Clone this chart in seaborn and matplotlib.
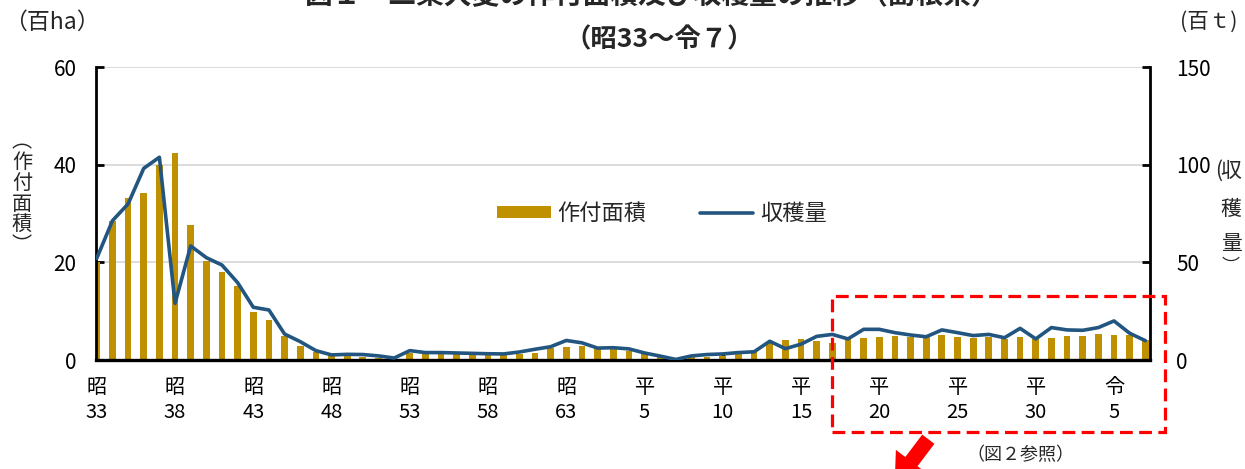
import numpy as np
import pandas as pd
import matplotlib
matplotlib.use("Agg")
import matplotlib.pyplot as plt
import seaborn as sns
from matplotlib.patches import Rectangle, FancyArrowPatch
from matplotlib.lines import Line2D

# ---------------- data ----------------
years = list(range(1958, 2026))  # 昭33 ... 令7

area = [20.1, 28.5, 33.1, 34.3, 40.0, 42.3, 27.6, 20.3, 18.0, 15.2,
        9.9, 8.2, 4.9, 2.9, 1.7, 1.0, 0.8, 0.7, 0.5, 0.3,
        1.4, 1.2, 1.2, 1.2, 1.1, 1.0, 1.0, 1.2, 1.5, 2.4,
        2.7, 2.9, 2.2, 2.2, 1.8, 1.2, 0.7, 0.2, 0.7, 0.7,
        0.8, 1.2, 2.0, 3.4, 4.1, 4.4, 3.9, 3.5, 4.2, 4.6,
        4.7, 4.9, 4.8, 4.8, 5.1, 4.8, 4.6, 4.8, 4.4, 4.8,
        4.4, 4.6, 4.9, 5.0, 5.3, 5.2, 5.1, 4.1]

harvest = [52.1, 71.3, 79.9, 98.1, 103.8, 29.0, 58.4, 52.4, 48.6, 39.6,
           27.0, 25.6, 13.3, 9.4, 4.8, 2.6, 2.9, 2.8, 2.1, 1.0,
           4.8, 3.8, 3.8, 3.6, 3.4, 3.2, 3.1, 4.1, 5.5, 6.8,
           10.0, 8.8, 6.1, 6.3, 5.7, 3.6, 2.0, 0.3, 2.1, 2.8,
           3.1, 3.8, 4.2, 9.6, 5.8, 8.1, 12.1, 13.1, 10.8, 15.7,
           15.7, 14.0, 12.8, 11.9, 15.4, 14.0, 12.5, 13.1, 11.4, 16.2,
           10.8, 16.6, 15.4, 15.2, 16.6, 20.0, 13.7, 9.9]

tick_years = [1958, 1963, 1968, 1973, 1978, 1983, 1988, 1993, 1998, 2003,
              2008, 2013, 2018, 2023]
tick_labels = ["昭\n33", "昭\n38", "昭\n43", "昭\n48", "昭\n53", "昭\n58", "昭\n63",
               "平\n5", "平\n10", "平\n15", "平\n20", "平\n25", "平\n30", "令\n5"]

area_ticks = [0, 20, 40, 60]
harvest_ticks = [0, 50, 100, 150]

df = pd.DataFrame({"year": years, "area": area, "harvest": harvest})

BAR = "#BF9000"
LINE = "#22557F"

# ---------------- style ----------------
sns.set_theme(style="white")
plt.rcParams["font.family"] = ["Noto Sans CJK JP", "DejaVu Sans"]

W, H = 1245, 469
fig = plt.figure(figsize=(W / 100, H / 100), dpi=100)
ax = fig.add_axes([96 / W, 1 - 360 / H, (1150 - 96) / W, (360 - 67) / H])

sns.barplot(data=df, x="year", y="area", native_scale=True, color=BAR,
            saturation=1, width=0.43, ax=ax, linewidth=0)
ax.set_ylim(0, 60)
ax.set_yticks(area_ticks)
ax.set_xlabel("")
ax.set_ylabel("")

ax2 = ax.twinx()
sns.lineplot(data=df, x="year", y="harvest", color=LINE, linewidth=2.6,
             ax=ax2, legend=False)
ax2.set_ylim(0, 150)
ax2.set_yticks(harvest_ticks)
ax2.set_xlabel("")
ax2.set_ylabel("")

ax.set_xlim(1957.95, 2025.3)
ax.set_xticks(tick_years)
ax.set_xticklabels(tick_labels, linespacing=1.3)

ax.grid(axis="y", color="#d9d9d9", linewidth=1.3)
ax.grid(axis="x", visible=False)
ax.set_axisbelow(True)
ax2.grid(False)

ax.tick_params(axis="y", direction="in", length=6, width=2, labelsize=15,
               pad=14, left=True, right=False, colors="black")
ax.tick_params(axis="x", direction="in", length=4, width=2.5, labelsize=14.5,
               pad=12, bottom=True, top=False, colors="black")
ax2.tick_params(axis="y", direction="in", length=6, width=2, labelsize=15,
                pad=19, right=True, left=False, colors="black")

for s in ["top", "right"]:
    ax.spines[s].set_visible(False)
ax.spines["left"].set_linewidth(2)
ax.spines["left"].set_color("black")
ax.spines["bottom"].set_linewidth(2.4)
ax.spines["bottom"].set_color("black")
for s in ["top", "left", "bottom"]:
    ax2.spines[s].set_visible(False)
ax2.spines["right"].set_linewidth(2)
ax2.spines["right"].set_color("black")

# legend
handles = [Rectangle((0, 0), 1, 1, facecolor=BAR, edgecolor="none"),
           Line2D([], [], color=LINE, linewidth=2.6)]
ax2.legend(handles, ["作付面積", "収穫量"], loc="center",
           bbox_to_anchor=((662 - 96) / 1054, (360 - 213) / 293),
           ncol=2, frameon=False, fontsize=16, handlelength=2.4,
           handleheight=0.45, handletextpad=0.3, columnspacing=2.4)

# ---------------- texts ----------------
def fx(px):
    return px / W

def fy(py):
    return 1 - py / H

fig.text(fx(652), fy(-5), "図１　二条大麦の作付面積及び収穫量の推移（島根県）",
         ha="center", va="center", fontsize=20, fontweight="bold")
fig.text(fx(659), fy(40), "（昭33～令７）", ha="center", va="center",
         fontsize=19, fontweight="bold")

fig.text(fx(52), fy(22), "（百ha）", ha="center", va="center", fontsize=16.5)
fig.text(fx(1209), fy(22), "(百ｔ)", ha="center", va="center", fontsize=15.5)

fig.text(fx(22), fy(194), "︵\n作\n付\n面\n積\n︶", ha="center", va="center",
         fontsize=14.5, linespacing=1.0)

fig.text(fx(1219), fy(171), "(", ha="center", va="center", fontsize=15)
for ch, py in [("収", 171), ("穫", 209), ("量", 244)]:
    fig.text(fx(1231), fy(py), ch, ha="center", va="center", fontsize=15)
fig.text(fx(1231), fy(258), "︶", ha="center", va="top", fontsize=13)

fig.text(fx(1020), fy(455), "（図２参照）", ha="center", va="center", fontsize=13)

# red dashed box
box = Rectangle((fx(832), fy(432)), fx(1165) - fx(832), fy(296) - fy(432),
                transform=fig.transFigure, fill=False, edgecolor="#FF0000",
                linewidth=2.3, linestyle=(0, (4, 2)), clip_on=False)
fig.add_artist(box)

# red arrow
arrow = FancyArrowPatch((930 / 100, (H - 437) / 100), (893 / 100, (H - 486) / 100),
                        transform=fig.dpi_scale_trans,
                        arrowstyle="simple,head_length=2.0,head_width=2.8,tail_width=1.1",
                        mutation_scale=10, color="#FF0000", linewidth=0, clip_on=False)
fig.add_artist(arrow)

fig.savefig("out.png", dpi=100)
